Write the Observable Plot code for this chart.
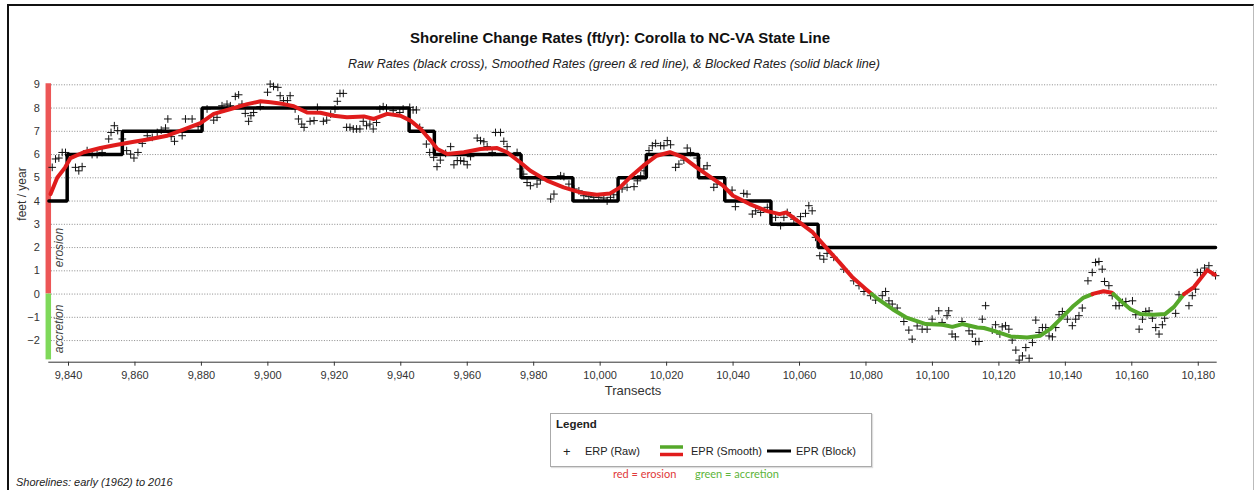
<!DOCTYPE html>
<html>
<head>
<meta charset="utf-8">
<script src="https://cdn.jsdelivr.net/npm/d3@7"></script>
<script src="https://cdn.jsdelivr.net/npm/@observablehq/plot@0.6"></script>
<style>
  html, body { margin: 0; padding: 0; background: #fff; }
  #wrap { position: relative; width: 1255px; height: 490px; overflow: hidden; background: #fff;
          font-family: "Liberation Sans", Arial, sans-serif; color: #222; }
  #frame { position: absolute; left: 7px; top: 4px; width: 1244px; height: 500px;
           border-left: 2px solid #111; border-top: 2px solid #111; border-right: 1px solid #bbb; }
  #title { position: absolute; left: 0; width: 1240px; top: 29px; text-align: center;
           font-weight: bold; font-size: 15px; color: #111; }
  #subtitle { position: absolute; left: 0; width: 1228px; top: 57px; text-align: center;
              font-style: italic; font-size: 12.6px; color: #222; }
  #plot { position: absolute; left: 0; top: 70px; }
  #legend { position: absolute; left: 550px; top: 413px; width: 320px; height: 52px;
            border: 1px solid #aaa; box-shadow: 1px 1px 1px #ddd; font-size: 11px; color: #222; }
  #legend .hd { position: absolute; left: 5px; top: 4px; font-weight: bold; font-size: 11.5px; }
  #legend .it { position: absolute; top: 31px; line-height: 13px; white-space: nowrap; }
  #note { position: absolute; top: 467px; font-family: "Lato", "Open Sans", sans-serif; font-size: 11px; white-space: nowrap; }
  #caption { position: absolute; left: 16px; top: 476px; font-style: italic; font-size: 11px; color: #222; }
</style>
</head>
<body>
<div id="wrap">
  <div id="frame"></div>
  <div id="title"></div>
  <div id="subtitle"></div>
  <div id="plot"></div>
  <div id="legend"></div>
  <div id="note"></div>
  <div id="caption"></div>
</div>
<script>
// ---------- text ----------
const titleText = "Shoreline Change Rates (ft/yr): Corolla to NC-VA State Line";
const subtitleText = "Raw Rates (black cross), Smoothed Rates (green & red line), & Blocked Rates (solid black line)";
const xLabel = "Transects";
const yLabel = "feet / year";
const captionText = "Shorelines: early (1962) to 2016";
const legendTitle = "Legend";
const legendLabels = ["ERP (Raw)", "EPR (Smooth)", "EPR (Block)"];
const noteLabels = ["red = erosion", "green = accretion"];
const zoneLabels = ["erosion", "accretion"];

// ---------- ticks ----------
const xTicks = [9840, 9860, 9880, 9900, 9920, 9940, 9960, 9980, 10000, 10020, 10040, 10060, 10080, 10100, 10120, 10140, 10160, 10180];
const yTicks = [-2, -1, 0, 1, 2, 3, 4, 5, 6, 7, 8, 9];

// ---------- raw rates (black crosses) ----------
const rawT = [
 9835.1,9836.1,9837.1,9838.1,9839.1,9842.1,9843.1,9844.1,9845.6,9847.1,9848.6,9850.1,9852.1,9852.8,9853.8,9854.8,9856.2,9857.5,9858.7,9859.7,9860.9,9862.2,9863.7,9865.2,9866.7,9867.9,9869.2,9869.9,9870.9,9871.9,9874.2,9875.2,
 9877.2,9879.0,9881.7,9883.7,9884.7,9886.2,9887.7,9888.7,9890.2,9891.2,9892.2,9893.2,9894.2,9894.9,9895.7,9897.7,9899.9,9900.7,9901.7,9903.0,9903.7,9904.7,9905.9,9906.7,9908.2,9909.2,9910.2,9910.9,9912.7,9913.9,9914.9,9916.7,9917.7,9918.9,9920.2,9920.9,9921.7,9922.7,9923.7,9924.7,9925.7,9926.7,9927.7,9928.7,9929.7,9930.7,9931.7,9932.7,9933.7,9934.7,9935.7,9937.7,9939.7,9940.7,9942.7,9943.7,9944.7,9945.7,9947.7,9948.7,
 9949.9,9950.9,9951.9,9953.5,9955.0,9956.0,9957.0,9958.0,9959.0,9960.0,9961.0,9963.0,9964.0,9965.0,9966.0,9967.5,9968.5,9970.0,9971.0,9972.0,9975.0,9976.0,9977.0,9978.0,9979.0,9981.0,9982.0,9985.1,9986.1,9988.1,9989.1,9990.6,9992.1,9993.6,9995.1,9996.6,9998.1,9999.6,10001.1,10002.1,10003.1,10004.1,10006.6,10008.1,10010.2,10011.2,10012.2,10013.2,10014.7,10015.7,10016.7,10018.2,10019.2,10020.2,10021.2,10022.7,10023.7,10025.2,10026.2,10027.2,10029.2,10031.2,10032.2,
 10034.2,10035.2,10039.7,10040.7,10043.2,10044.2,10045.8,10046.8,10048.3,10050.3,10052.8,10054.3,10055.3,10056.3,10058.3,10060.3,10061.8,10062.8,10063.8,10064.8,10066.1,10067.3,10068.3,10070.3,10073.3,10076.3,10077.9,10079.4,10081.4,10082.9,10084.9,10085.9,10086.9,10087.9,10089.4,10091.4,10092.9,10093.9,10095.4,10096.9,10098.4,10099.9,10101.9,10102.9,10104.4,10104.9,10105.9,10106.9,10108.9,
 10111.0,10112.0,10113.0,10114.0,10115.0,10116.0,10118.0,10119.0,10120.3,10121.0,10122.0,10123.0,10124.0,10125.1,10126.1,10127.1,10128.1,10129.1,10130.1,10131.1,10132.1,10133.1,10134.1,10135.1,10136.1,10137.1,10138.1,10139.1,10140.6,10142.1,10143.1,10144.1,10145.1,10146.8,10148.1,10149.1,10150.1,10151.1,10151.8,10153.1,10154.1,10155.2,10156.2,10157.2,10158.2,10160.2,10161.2,10162.2,10163.2,10164.2,10165.2,10166.2,10167.2,10168.2,10169.2,10169.9,10173.2,10174.2,10177.2,10178.2,10179.2,10179.7,10180.7,10181.9,10183.2,10185.2
];
const rawV = [
 5.45,5.81,5.85,6.09,6.09,5.45,5.30,5.48,6.17,6.00,6.00,6.09,6.67,6.95,7.24,7.03,6.67,6.17,6.02,5.85,6.09,6.48,6.81,6.74,6.95,7.05,7.14,7.53,6.77,6.57,6.81,7.53,
 7.53,7.20,7.96,7.48,7.60,8.10,8.17,8.10,8.50,8.57,8.17,7.77,7.43,7.67,7.81,8.06,8.68,9.03,8.93,8.89,8.53,8.32,8.32,8.53,7.96,7.53,7.31,7.17,7.43,7.46,8.03,7.43,7.48,7.74,7.96,8.29,8.63,8.63,7.17,7.17,7.10,7.10,7.10,7.43,7.24,7.31,7.10,7.38,7.96,8.06,8.00,7.89,7.81,7.96,8.03,7.92,7.92,7.17,6.45,6.09,
 5.88,5.48,5.76,6.05,6.34,5.56,5.74,5.74,5.71,5.56,5.91,6.71,6.60,6.55,6.34,6.09,6.95,6.95,6.57,6.34,6.09,5.38,5.16,4.80,4.66,4.73,4.90,4.09,4.30,5.09,5.05,4.73,4.52,4.44,4.23,4.19,4.16,4.16,4.13,4.00,4.16,4.27,4.52,4.59,4.62,4.87,5.09,5.30,6.17,6.38,6.48,6.38,6.38,6.60,6.42,5.45,5.59,5.76,6.28,6.09,5.85,5.38,5.52,
 4.59,4.73,4.47,3.76,4.33,4.30,3.44,3.58,3.51,3.73,3.30,2.94,3.30,3.51,3.22,3.33,3.47,3.80,3.58,2.44,1.65,1.50,1.75,1.58,1.07,0.57,0.36,0.11,-0.07,-0.26,-0.07,0.11,-0.29,-0.43,-0.60,-1.18,-1.55,-1.94,-1.37,-1.51,-1.51,-1.08,-0.72,-1.22,-0.93,-0.72,-1.72,-1.84,-1.18,
 -1.58,-1.72,-2.04,-2.04,-1.08,-0.50,-1.55,-1.32,-1.72,-1.41,-1.36,-1.51,-1.98,-2.41,-2.84,-2.66,-2.30,-2.76,-2.08,-1.12,-1.65,-1.44,-1.44,-1.80,-1.84,-1.44,-0.89,-0.75,-1.08,-1.36,-1.08,-0.93,-0.60,0.57,0.93,1.36,1.40,1.07,0.54,0.36,-0.07,-0.50,-0.50,-0.36,-0.32,-0.29,-0.89,-1.51,-1.08,-0.75,-0.72,-1.04,-1.44,-1.72,-1.32,-1.04,-0.83,-0.03,-0.50,-0.07,0.21,0.93,0.93,1.12,1.22,0.79
];

// ---------- smoothed rates (red >= 0 erosion, green < 0 accretion) ----------
const smoothT = [9834.6,9836.6,9839,9840.6,9844.6,9849.6,9854.6,9859.7,9864.7,9869.7,9874.2,9879.7,9883.7,9888.8,9893.8,9897.8,9900.8,9904.8,9907.8,9911.8,9915.8,9919.8,9923.8,9928.9,9931.9,9935.9,9939.9,9942.9,9946,9949,9951,9954,9959,9964,9969,9972,9976,9979,9984,9989,9994,9999,10003,10006,10009,10013,10017,10021,10025,10029,10033,10037,10040,10045,10050,10054,10056,10060,10064,10068,10072,10076,10080,10083,10088,10092,10098,10103,10106,10109,10113.5,10115.5,10118.5,10123.5,10128.5,10132.5,10135.5,10138.5,10142.5,10145.5,10148.5,10151.5,10154,10156.6,10159.6,10162.6,10166.6,10170,10172.7,10175.7,10178.7,10182.7,10185];
const smoothV = [4.30,5.00,5.45,5.85,6.10,6.28,6.42,6.55,6.67,6.81,7.05,7.35,7.75,7.96,8.17,8.29,8.25,8.17,8.08,7.81,7.80,7.67,7.60,7.64,7.53,7.75,7.67,7.46,7.10,6.60,6.24,6.02,6.10,6.24,6.28,6.10,5.66,5.30,4.88,4.59,4.37,4.27,4.33,4.59,5.02,5.52,5.95,6.10,5.88,5.45,5.05,4.66,4.23,3.87,3.58,3.44,3.51,3.08,2.65,2.00,1.36,0.71,0.21,-0.15,-0.65,-1.00,-1.29,-1.32,-1.41,-1.29,-1.44,-1.46,-1.58,-1.82,-1.87,-1.79,-1.50,-1.08,-0.50,-0.15,0.02,0.12,0.06,-0.29,-0.65,-0.86,-0.89,-0.86,-0.55,0.00,0.30,1.03,0.83];

// ---------- blocked rates (solid black step line) ----------
const blockStart = [9834.1, 9839.6, 9856.2, 9880.2, 9942.5, 9950.1, 9976.2, 9991.8, 10005.4, 10013.9, 10029.6, 10037.5, 10051.4, 10065.6];
const blockEnd   = [9839.6, 9856.2, 9880.2, 9942.5, 9950.1, 9976.2, 9991.8, 10005.4, 10013.9, 10029.6, 10037.5, 10051.4, 10065.6, 10185.2];
const blockValue = [4, 6, 7, 8, 7, 6, 5, 4, 5, 6, 5, 4, 3, 2];

// ---------- build tables ----------
const RED = "#e01c1c", GREEN = "#55a82a";
const raw = rawT.map((t, i) => ({t, v: rawV[i]}));

const blockPts = [];
blockStart.forEach((s, i) => { blockPts.push({t: s, v: blockValue[i]}); blockPts.push({t: blockEnd[i], v: blockValue[i]}); });

// split smoothed line into sign segments (crossing found from neighbouring readings)
const smoothPts = [];
let seg = 0, pos = smoothV[0] >= 0;
smoothPts.push({t: smoothT[0], v: smoothV[0], seg, pos});
for (let i = 1; i < smoothT.length; i++) {
  const p = smoothV[i] >= 0;
  if (p !== pos) {
    const t0 = smoothT[i-1], v0 = smoothV[i-1], t1 = smoothT[i], v1 = smoothV[i];
    const tc = t0 + (0 - v0) * (t1 - t0) / (v1 - v0);
    smoothPts.push({t: tc, v: 0, seg, pos});
    seg++; pos = p;
    smoothPts.push({t: tc, v: 0, seg, pos});
  }
  smoothPts.push({t: smoothT[i], v: smoothV[i], seg, pos});
}

const xDomain = [9834.07, 10185.7];
const yDomain = [-2.93, 9.2];

const chart = Plot.plot({
  width: 1255,
  height: 330,
  marginLeft: 48.3,
  marginRight: 38.3,
  marginTop: 9.65,
  marginBottom: 38.3,
  style: {fontFamily: "Liberation Sans, Arial, sans-serif", fontSize: "11px", color: "#333", background: "transparent", overflow: "visible"},
  x: {domain: xDomain},
  y: {domain: yDomain},
  marks: [
    Plot.ruleY(yTicks, {stroke: "#8a8a8a", strokeWidth: 1, strokeDasharray: "1,1.6"}),
    Plot.ruleX([xDomain[0]], {y1: 0, y2: 9.05, stroke: "#ec5656", strokeWidth: 5.5, dx: -0.5}),
    Plot.ruleX([xDomain[0]], {y1: -2.83, y2: 0, stroke: "#7fd95a", strokeWidth: 5.5, dx: -0.5}),
    Plot.text([zoneLabels[0]], {x: xDomain[0], y: 2, text: d => d, rotate: -90, dx: 10, fontSize: 12, fontStyle: "italic", fill: "#444"}),
    Plot.text([zoneLabels[1]], {x: xDomain[0], y: -1.5, text: d => d, rotate: -90, dx: 10, fontSize: 12, fontStyle: "italic", fill: "#444"}),
    Plot.ruleY([yDomain[0]], {stroke: "#333", strokeWidth: 1}),
    Plot.axisX({ticks: xTicks, tickFormat: d3.format(","), tickSize: 4, tickPadding: 5, label: null, stroke: "#333"}),
    Plot.axisY({ticks: yTicks, tickSize: 0, tickPadding: 9, label: null}),
    Plot.text([xLabel], {frameAnchor: "bottom", dy: 29, lineAnchor: "middle", text: d => d, fontSize: 13, fill: "#333"}),
    Plot.text([yLabel], {frameAnchor: "left", dx: -26.5, dy: -0.5, rotate: -90, lineAnchor: "middle", text: d => d, fontSize: 12, fill: "#333"}),
    Plot.dot(raw, {x: "t", y: "v", symbol: "plus", r: 2.6, stroke: "#111", strokeWidth: 1}),
    Plot.line(blockPts, {x: "t", y: "v", stroke: "#000", strokeWidth: 3.5, strokeLinejoin: "miter", curve: "linear"}),
    Plot.line(smoothPts, {x: "t", y: "v", z: "seg", stroke: d => d.pos ? RED : GREEN, strokeWidth: 4})
  ]
});
document.getElementById("plot").appendChild(chart);

document.getElementById("title").textContent = titleText;
document.getElementById("subtitle").textContent = subtitleText;
document.getElementById("caption").textContent = captionText;

// legend
const lg = document.getElementById("legend");
lg.innerHTML =
  `<div class="hd">${legendTitle}</div>` +
  `<div class="it" style="left:12px;font-size:13px">+</div>` +
  `<div class="it" style="left:34px">${legendLabels[0]}</div>` +
  `<svg style="position:absolute;left:109px;top:30px" width="24" height="14"><line x1="0" x2="23" y1="3" y2="3" stroke="${GREEN}" stroke-width="3.5"/><line x1="0" x2="23" y1="10.5" y2="10.5" stroke="${RED}" stroke-width="3.5"/></svg>` +
  `<div class="it" style="left:140px">${legendLabels[1]}</div>` +
  `<svg style="position:absolute;left:216px;top:33px" width="25" height="8"><line x1="0" x2="24" y1="4" y2="4" stroke="#000" stroke-width="3"/></svg>` +
  `<div class="it" style="left:245px">${legendLabels[2]}</div>`;
const note = document.getElementById("note");
note.innerHTML = `<span style="position:absolute;left:613px;color:#e03a3a">${noteLabels[0]}</span>` +
                 `<span style="position:absolute;left:695px;color:#5cb43a">${noteLabels[1]}</span>`;
</script>
</body>
</html>
